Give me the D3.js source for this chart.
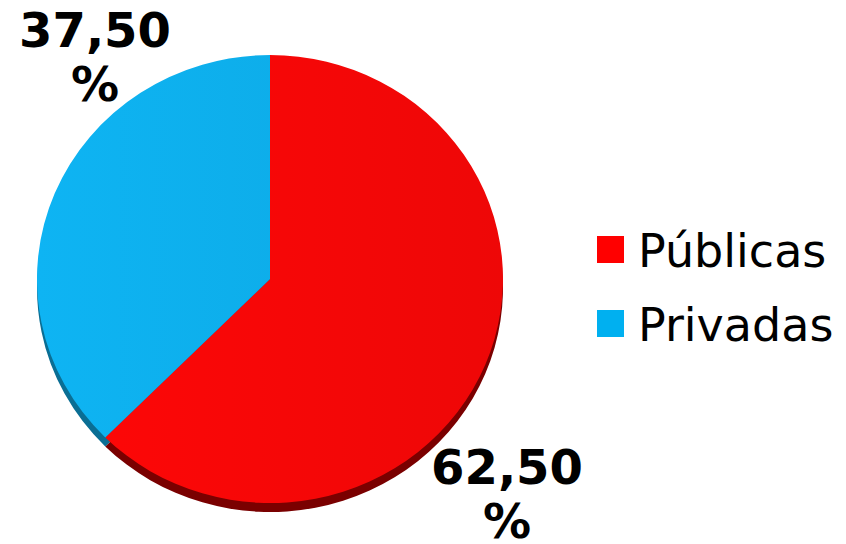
<!DOCTYPE html>
<html>
<head>
<meta charset="utf-8">
<script src="https://cdn.jsdelivr.net/npm/d3@7"></script>
<style>
    body { margin: 0; background: #fff; }
    svg { display: block; }
</style>
</head>
<body>
<div id="chart"></div>
<script>
// Data
const categories = ['Públicas', 'Privadas'];
const values = [62.5, 37.5];
const valueLabels = ['62,50', '37,50'];

// Colours
const topColors = ['#F20707', '#0DABE6'];
const sideColors = ['#7A0000', '#0A6E94'];
const legendColors = ['#FF0000', '#00B0F0'];

const width = 846;
const height = 544;

const svg = d3.select('#chart')
    .append('svg')
    .attr('width', width)
    .attr('height', height);

// Pie geometry (slightly flattened, tilted look)
const cx = 270, cy = 279;
const rx = 233, ry = 224;
const depth = 9;

const pie = d3.pie().sort(null).value(d => d);
const arcs = pie(values);
const arc = d3.arc().innerRadius(0).outerRadius(rx);

const defs = svg.append('defs');
topColors.forEach((c, i) => {
    const g = defs.append('linearGradient')
        .attr('id', `grad-${i}`)
        .attr('gradientUnits', 'userSpaceOnUse')
        .attr('x1', -rx).attr('y1', 0)
        .attr('x2', rx).attr('y2', 0);
    g.append('stop').attr('offset', '0%').attr('stop-color', d3.color(c).brighter(0.15));
    g.append('stop').attr('offset', '100%').attr('stop-color', d3.color(c).darker(0.05));
});

// Side (depth) layer
svg.append('g')
    .attr('transform', `translate(${cx},${cy + depth}) scale(1,${ry / rx})`)
    .selectAll('path')
    .data(arcs)
    .join('path')
    .attr('d', arc)
    .attr('fill', (d, i) => sideColors[i]);

// Top face
svg.append('g')
    .attr('transform', `translate(${cx},${cy}) scale(1,${ry / rx})`)
    .selectAll('path')
    .data(arcs)
    .join('path')
    .attr('d', arc)
    .attr('fill', (d, i) => `url(#grad-${i})`);

// Data labels (best-fit positions outside the pie)
const labelPos = [
    { x: 507, y: 484 },
    { x: 95, y: 47 }
];
const labels = svg.append('g')
    .attr('font-family', '"DejaVu Sans", Verdana, sans-serif')
    .attr('font-weight', 'bold')
    .attr('font-size', 48)
    .attr('fill', '#000')
    .attr('text-anchor', 'middle');

valueLabels.forEach((t, i) => {
    const txt = labels.append('text')
        .attr('x', labelPos[i].x)
        .attr('y', labelPos[i].y);
    txt.append('tspan').attr('x', labelPos[i].x).text(t);
    txt.append('tspan').attr('x', labelPos[i].x).attr('dy', 54).text('%');
});

// Legend
const legend = svg.append('g')
    .attr('transform', 'translate(597,236)');

const item = legend.selectAll('g')
    .data(categories)
    .join('g')
    .attr('transform', (d, i) => `translate(0,${i * 74})`);

item.append('rect')
    .attr('width', 27)
    .attr('height', 27)
    .attr('fill', (d, i) => legendColors[i]);

item.append('text')
    .attr('x', 41)
    .attr('y', 31)
    .attr('font-family', '"DejaVu Sans", Verdana, sans-serif')
    .attr('font-size', 46)
    .attr('fill', '#000')
    .text(d => d);
</script>
</body>
</html>
